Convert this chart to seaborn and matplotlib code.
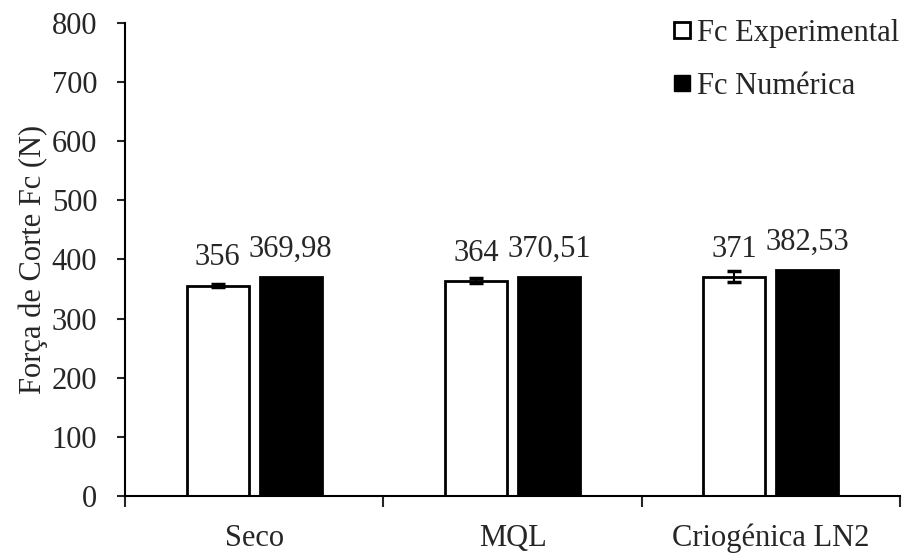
import numpy as np
import pandas as pd
import matplotlib
matplotlib.use("Agg")
import matplotlib.pyplot as plt
import seaborn as sns
from matplotlib.lines import Line2D

sns.set_style("white")
plt.rcParams['font.family'] = ['Liberation Serif', 'DejaVu Serif']

# data
categories = ["Seco", "MQL", "Criogénica LN2"]
series = ["Fc Experimental", "Fc Numérica"]
fc_experimental = [356, 364, 371]
fc_numerica = [369.98, 370.51, 382.53]
err_experimental = [3, 4, 9]
labels_experimental = ["356", "364", "371"]
labels_numerica = ["369,98", "370,51", "382,53"]
y_ticks = [0, 100, 200, 300, 400, 500, 600, 700, 800]

FS = 22

df = pd.DataFrame({
    "Condição": categories * 2,
    "Série": [series[0]] * 3 + [series[1]] * 3,
    "Fc": fc_experimental + fc_numerica,
})

fig = plt.figure(figsize=(9.07, 5.54), dpi=100)
ax = fig.add_axes([0.1378, 0.1047, 0.8545, 0.8538])

sns.barplot(data=df, x="Condição", y="Fc", hue="Série", order=categories,
            hue_order=series, palette=["white", "black"], width=0.566, gap=0.15,
            edgecolor="black", linewidth=2, errorbar=None, legend=False, ax=ax)

# bars: first 3 experimental, next 3 numerical
patches = ax.patches[:6]
exp_bars, num_bars = patches[:3], patches[3:]
for p, e in zip(exp_bars, err_experimental):
    xc = p.get_x() + p.get_width() / 2
    ax.errorbar(xc, p.get_height(), yerr=e, color="black", capsize=5,
                elinewidth=1.5, capthick=2.5, zorder=5)

for bars, labs in [(exp_bars, labels_experimental), (num_bars, labels_numerica)]:
    for p, lab in zip(bars, labs):
        xc = p.get_x() + p.get_width() / 2
        ax.annotate(lab, (xc, p.get_height()), xytext=(0, 14.5), textcoords="offset points",
                    ha="center", va="baseline", fontsize=FS)

ax.set_ylim(0, 800)
ax.set_yticks(y_ticks)
ax.set_xlim(-0.5, 2.5)
ax.set_xticks([0, 1, 2])
ax.set_xticklabels(categories, fontsize=FS)
ax.set_xticks([-0.5, 0.5, 1.5, 2.5], minor=True)
ax.tick_params(axis="x", which="major", length=0, pad=20)
ax.tick_params(axis="x", which="minor", bottom=True, length=8, width=1.5, direction="out")
ax.tick_params(axis="y", left=True, length=6, width=1.5, direction="out", labelsize=FS, pad=14)
ax.set_xlabel("")
ax.set_ylabel("Força de Corte Fc (N)", fontsize=FS, labelpad=3)

sns.despine(ax=ax)
for s in ["left", "bottom"]:
    ax.spines[s].set_linewidth(1.5)
    ax.spines[s].set_color("black")

handles = [
    Line2D([], [], marker="s", linestyle="", markersize=11, markerfacecolor="white",
           markeredgecolor="black", markeredgewidth=2),
    Line2D([], [], marker="s", linestyle="", markersize=12, markerfacecolor="black",
           markeredgecolor="black"),
]
fig.legend(handles, series, loc="upper right", bbox_to_anchor=(0.992, 0.966),
           frameon=False, fontsize=FS, handlelength=0.5, handletextpad=0.25,
           labelspacing=0.78, borderaxespad=0, borderpad=0)

fig.savefig("out.png", dpi=100)
